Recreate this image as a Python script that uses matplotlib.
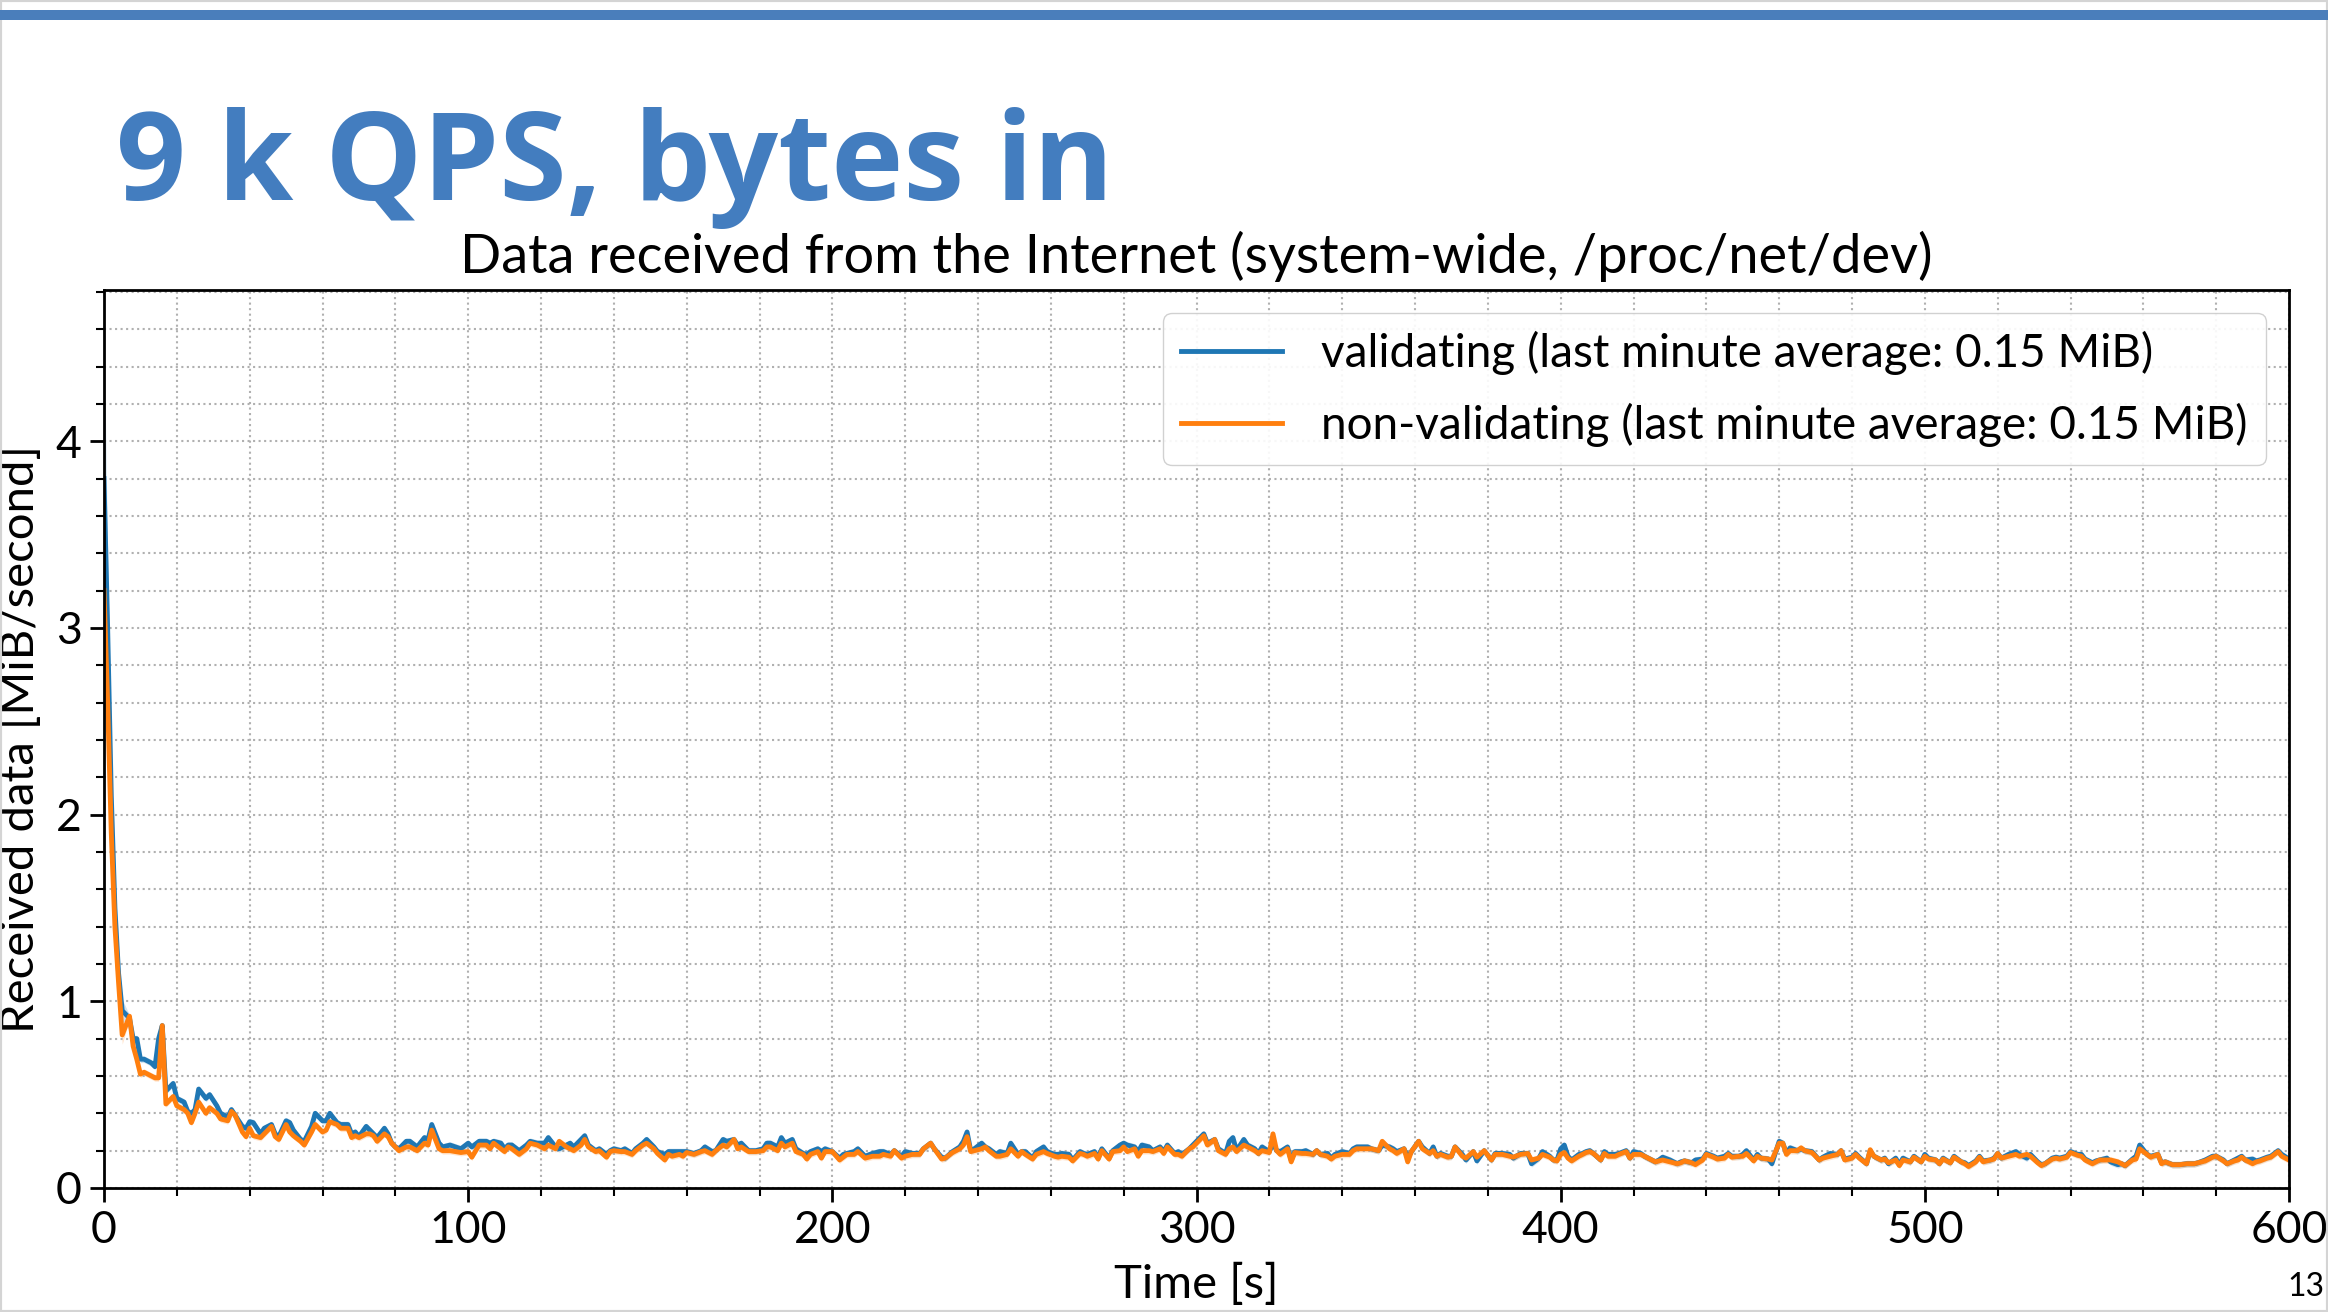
import numpy as np
import matplotlib
matplotlib.use('Agg')
from matplotlib import pyplot as plt
from matplotlib.ticker import MultipleLocator
from matplotlib.patches import Rectangle

# seconds since start
t_s = [0, 1, 2, 3, 4, 5, 7, 8, 9, 10,
       11, 13, 14, 15, 16, 17, 19, 20, 22, 23,
       24, 25, 26, 28, 29, 31, 32, 34, 35, 36,
       38, 39, 40, 41, 43, 44, 46, 47, 48, 50,
       51, 52, 54, 55, 57, 58, 60, 61, 62, 64,
       65, 67, 68, 69, 70, 72, 73, 74, 75, 77,
       78, 79, 80, 81, 83, 84, 86, 88, 89, 90,
       92, 93, 95, 98,
       100, 101, 103, 105, 106, 107, 109, 110, 111, 112,
       114, 116, 117, 119, 121, 122, 124, 125, 127, 128,
       129, 131, 132, 133, 135, 136, 138, 139, 140, 142,
       143, 145, 146, 148, 149, 151, 152, 154, 155, 156,
       158, 159, 160, 162, 164, 165, 167, 168, 170, 171,
       173, 174, 175, 177, 179, 181, 182, 183, 185, 186,
       187, 189, 190, 192, 193, 194, 196, 197, 198,
       200, 202, 203, 204, 206, 207, 209, 211, 213, 214,
       216, 217, 219, 220, 222, 224, 225, 227, 228, 230,
       231, 233, 235, 236, 237, 238, 239, 241, 242, 243,
       245, 246, 248, 249, 251, 252, 253, 255, 256, 258,
       259, 261, 262, 263, 265, 266, 268, 269, 270, 272,
       273, 274, 276, 277, 279, 280, 281, 283, 284, 285,
       287, 288, 290, 291, 292, 294, 295, 296, 298, 299,
       300, 302, 303, 305, 306, 308, 309, 310, 311, 313,
       314, 316, 317, 318, 320, 321, 322, 323, 325, 326,
       327, 329, 330, 332, 333, 334, 336, 337, 338, 340,
       342, 343, 344, 346, 347, 348, 350, 351, 353, 354,
       355, 357, 358, 359, 361, 362, 364, 365, 366, 367,
       369, 370, 371, 373, 374, 376, 377, 379, 381, 382,
       384, 386, 387, 389, 391, 392, 394, 395, 397, 398,
       399,
       400, 401, 402, 403, 405, 406, 407, 408, 409, 411,
       412, 413, 415, 416, 418, 419, 420, 422, 423, 424,
       426, 427, 428, 430, 432, 433, 434, 436, 437, 439,
       440, 442, 443, 445, 446, 447, 449, 450, 451, 453,
       454, 455, 457, 458, 460, 461, 462, 463, 465, 466,
       467, 469, 471, 472, 474, 476, 477, 478, 480, 481,
       482, 484, 485, 486, 488, 489, 490, 492, 493, 494,
       496, 497, 499,
       500, 501, 503, 504, 505, 507, 508, 510, 511, 512,
       514, 515, 516, 518, 519, 520, 521, 523, 525, 526,
       528, 529, 531, 532, 533, 535, 536, 537, 539, 540,
       542, 543, 544, 546, 547, 548, 550, 551, 553, 554,
       555, 557, 558, 559, 561, 562, 564, 565, 566, 568,
       570, 572, 574, 575, 577, 579, 580, 582, 583, 585,
       586, 587, 588, 590, 591, 592, 594, 595, 597, 598,
       600]

# MiB/s received, validating resolver
validating = [3.80, 3.00, 2.10, 1.50, 1.15, 0.95, 0.91, 0.80, 0.80, 0.69,
              0.69, 0.67, 0.65, 0.80, 0.87, 0.52, 0.56, 0.48, 0.46, 0.41,
              0.40, 0.42, 0.53, 0.48, 0.50, 0.44, 0.40, 0.38, 0.42, 0.39,
              0.33, 0.32, 0.355, 0.35, 0.29, 0.32, 0.34, 0.29, 0.275, 0.36,
              0.35, 0.31, 0.26, 0.25, 0.33, 0.40, 0.36, 0.36, 0.40, 0.35,
              0.34, 0.34, 0.29, 0.30, 0.275, 0.33, 0.31, 0.29, 0.27, 0.32,
              0.29, 0.24, 0.22, 0.21, 0.25, 0.25, 0.22, 0.27, 0.26, 0.34,
              0.24, 0.22, 0.23, 0.21,
              0.24, 0.22, 0.25, 0.25, 0.24, 0.25, 0.24, 0.21, 0.23, 0.23,
              0.20, 0.23, 0.25, 0.24, 0.24, 0.27, 0.22, 0.21, 0.23, 0.24,
              0.22, 0.26, 0.28, 0.23, 0.20, 0.21, 0.18, 0.20, 0.21, 0.20,
              0.21, 0.185, 0.21, 0.24, 0.26, 0.22, 0.195, 0.18, 0.195, 0.195,
              0.195, 0.195, 0.195, 0.185, 0.20, 0.22, 0.195, 0.20, 0.26, 0.25,
              0.26, 0.23, 0.24, 0.20, 0.20, 0.21, 0.24, 0.24, 0.22, 0.27,
              0.24, 0.26, 0.21, 0.185, 0.18, 0.195, 0.21, 0.195, 0.21,
              0.195, 0.16, 0.18, 0.185, 0.195, 0.21, 0.17, 0.185, 0.195, 0.195,
              0.18, 0.20, 0.17, 0.195, 0.185, 0.185, 0.21, 0.24, 0.21, 0.165,
              0.16, 0.195, 0.22, 0.25, 0.30, 0.20, 0.21, 0.24, 0.22, 0.21,
              0.18, 0.195, 0.185, 0.24, 0.18, 0.195, 0.195, 0.16, 0.195, 0.22,
              0.195, 0.18, 0.18, 0.185, 0.18, 0.15, 0.195, 0.185, 0.18, 0.195,
              0.16, 0.21, 0.16, 0.20, 0.23, 0.24, 0.23, 0.22, 0.195, 0.23,
              0.22, 0.20, 0.22, 0.195, 0.23, 0.185, 0.195, 0.18, 0.21, 0.23,
              0.25, 0.29, 0.24, 0.26, 0.21, 0.185, 0.25, 0.27, 0.20, 0.26,
              0.23, 0.21, 0.185, 0.22, 0.195, 0.24, 0.20, 0.195, 0.22, 0.15,
              0.195, 0.195, 0.20, 0.18, 0.20, 0.18, 0.185, 0.16, 0.18, 0.195,
              0.185, 0.21, 0.22, 0.22, 0.22, 0.21, 0.20, 0.23, 0.22, 0.21,
              0.195, 0.21, 0.16, 0.195, 0.25, 0.22, 0.185, 0.22, 0.17, 0.185,
              0.17, 0.17, 0.22, 0.18, 0.15, 0.195, 0.145, 0.20, 0.15, 0.185,
              0.185, 0.18, 0.16, 0.185, 0.185, 0.13, 0.16, 0.195, 0.17, 0.15,
              0.15,
              0.21, 0.23, 0.17, 0.15, 0.18, 0.185, 0.195, 0.20, 0.185, 0.15,
              0.195, 0.18, 0.18, 0.185, 0.20, 0.16, 0.195, 0.185, 0.17, 0.16,
              0.14, 0.15, 0.165, 0.15, 0.13, 0.14, 0.145, 0.135, 0.15, 0.155,
              0.185, 0.17, 0.16, 0.17, 0.185, 0.17, 0.17, 0.18, 0.20, 0.15,
              0.18, 0.16, 0.155, 0.13, 0.25, 0.24, 0.185, 0.215, 0.20, 0.21,
              0.20, 0.195, 0.15, 0.165, 0.185, 0.18, 0.20, 0.155, 0.165, 0.185,
              0.165, 0.13, 0.20, 0.17, 0.15, 0.16, 0.13, 0.16, 0.125, 0.16,
              0.14, 0.17, 0.14,
              0.18, 0.16, 0.15, 0.13, 0.16, 0.135, 0.17, 0.14, 0.135, 0.12,
              0.145, 0.17, 0.145, 0.15, 0.16, 0.185, 0.16, 0.18, 0.195, 0.18,
              0.16, 0.18, 0.14, 0.125, 0.13, 0.16, 0.165, 0.16, 0.17, 0.195,
              0.18, 0.18, 0.155, 0.135, 0.145, 0.15, 0.16, 0.14, 0.125, 0.13,
              0.12, 0.155, 0.17, 0.23, 0.18, 0.17, 0.18, 0.135, 0.14, 0.125,
              0.125, 0.13, 0.13, 0.135, 0.15, 0.17, 0.17, 0.15, 0.13, 0.15,
              0.16, 0.17, 0.15, 0.155, 0.145, 0.15, 0.165, 0.17, 0.20, 0.18,
              0.155]

# MiB/s received, non-validating resolver
non_validating = [3.20, 2.60, 1.90, 1.40, 1.10, 0.82, 0.92, 0.76, 0.69, 0.61,
                  0.62, 0.60, 0.59, 0.59, 0.87, 0.45, 0.49, 0.44, 0.42, 0.40,
                  0.35, 0.40, 0.46, 0.40, 0.43, 0.40, 0.37, 0.36, 0.41, 0.39,
                  0.30, 0.275, 0.32, 0.28, 0.27, 0.29, 0.33, 0.275, 0.26, 0.34,
                  0.30, 0.28, 0.25, 0.23, 0.30, 0.34, 0.30, 0.31, 0.355, 0.34,
                  0.32, 0.32, 0.27, 0.28, 0.27, 0.29, 0.29, 0.28, 0.25, 0.29,
                  0.275, 0.24, 0.22, 0.20, 0.22, 0.22, 0.20, 0.24, 0.23, 0.31,
                  0.21, 0.20, 0.20, 0.19,
                  0.195, 0.165, 0.23, 0.23, 0.21, 0.24, 0.21, 0.195, 0.22, 0.21,
                  0.18, 0.21, 0.24, 0.23, 0.21, 0.23, 0.21, 0.25, 0.22, 0.21,
                  0.20, 0.23, 0.26, 0.22, 0.195, 0.20, 0.165, 0.195, 0.20, 0.195,
                  0.195, 0.18, 0.20, 0.23, 0.24, 0.21, 0.185, 0.15, 0.18, 0.17,
                  0.18, 0.17, 0.19, 0.18, 0.195, 0.20, 0.18, 0.20, 0.23, 0.22,
                  0.26, 0.21, 0.22, 0.195, 0.195, 0.20, 0.22, 0.22, 0.20, 0.24,
                  0.22, 0.24, 0.195, 0.18, 0.155, 0.18, 0.195, 0.16, 0.195,
                  0.195, 0.15, 0.165, 0.18, 0.18, 0.195, 0.16, 0.17, 0.17, 0.18,
                  0.17, 0.20, 0.16, 0.17, 0.18, 0.18, 0.21, 0.24, 0.21, 0.155,
                  0.16, 0.19, 0.21, 0.23, 0.275, 0.195, 0.20, 0.21, 0.22, 0.20,
                  0.17, 0.17, 0.18, 0.21, 0.17, 0.195, 0.18, 0.155, 0.18, 0.195,
                  0.185, 0.17, 0.165, 0.17, 0.165, 0.145, 0.185, 0.18, 0.17, 0.185,
                  0.155, 0.20, 0.155, 0.195, 0.20, 0.22, 0.195, 0.21, 0.17, 0.20,
                  0.20, 0.195, 0.21, 0.185, 0.22, 0.18, 0.18, 0.17, 0.21, 0.22,
                  0.24, 0.28, 0.23, 0.26, 0.20, 0.18, 0.21, 0.22, 0.195, 0.23,
                  0.22, 0.20, 0.185, 0.20, 0.19, 0.29, 0.20, 0.18, 0.21, 0.14,
                  0.19, 0.185, 0.185, 0.18, 0.20, 0.18, 0.17, 0.155, 0.17, 0.18,
                  0.18, 0.20, 0.21, 0.21, 0.21, 0.21, 0.20, 0.25, 0.21, 0.20,
                  0.185, 0.21, 0.14, 0.195, 0.25, 0.21, 0.185, 0.20, 0.17, 0.18,
                  0.165, 0.17, 0.22, 0.17, 0.16, 0.195, 0.165, 0.20, 0.15, 0.18,
                  0.18, 0.17, 0.165, 0.18, 0.185, 0.15, 0.16, 0.18, 0.165, 0.15,
                  0.145,
                  0.18, 0.19, 0.16, 0.145, 0.17, 0.18, 0.19, 0.195, 0.185, 0.15,
                  0.185, 0.17, 0.17, 0.18, 0.195, 0.16, 0.18, 0.18, 0.17, 0.16,
                  0.14, 0.145, 0.15, 0.14, 0.13, 0.135, 0.145, 0.135, 0.125, 0.15,
                  0.18, 0.165, 0.155, 0.16, 0.18, 0.165, 0.17, 0.17, 0.185, 0.145,
                  0.17, 0.16, 0.155, 0.15, 0.24, 0.24, 0.18, 0.20, 0.20, 0.215,
                  0.20, 0.19, 0.15, 0.16, 0.17, 0.18, 0.20, 0.15, 0.16, 0.18,
                  0.16, 0.13, 0.205, 0.17, 0.15, 0.155, 0.135, 0.15, 0.12, 0.15,
                  0.14, 0.165, 0.14,
                  0.17, 0.155, 0.15, 0.13, 0.155, 0.135, 0.165, 0.14, 0.13, 0.115,
                  0.14, 0.165, 0.14, 0.15, 0.155, 0.185, 0.16, 0.17, 0.18, 0.17,
                  0.18, 0.17, 0.135, 0.12, 0.13, 0.155, 0.16, 0.155, 0.165, 0.19,
                  0.175, 0.17, 0.15, 0.13, 0.14, 0.15, 0.15, 0.15, 0.14, 0.13,
                  0.12, 0.15, 0.155, 0.21, 0.18, 0.165, 0.18, 0.13, 0.14, 0.125,
                  0.125, 0.13, 0.13, 0.135, 0.145, 0.165, 0.17, 0.145, 0.13, 0.145,
                  0.15, 0.165, 0.15, 0.13, 0.14, 0.145, 0.16, 0.165, 0.195, 0.17,
                  0.15]

# confidence band half-width during the first seconds (wide at start)
early_spread_val = [0.80, 0.40, 0.25, 0.12, 0.08, 0.06]
early_spread_nonval = [0.60, 0.30, 0.20, 0.10, 0.06, 0.05]

labels = ["validating (last minute average: 0.15 MiB)",
          "non-validating (last minute average: 0.15 MiB)"]

W, H = 2328, 1312
plt.rcParams['font.family'] = ['Lato', 'DejaVu Sans']
fig = plt.figure(figsize=(W / 100, H / 100), dpi=100)

# slide decoration
fig.patches.append(Rectangle((0, 0), 1, 1, transform=fig.transFigure, fill=False,
                             edgecolor='#d4d4d4', lw=3))
fig.patches.append(Rectangle((0, 1 - 20 / H), 1, 10 / H, transform=fig.transFigure,
                             color='#4a7ebb', lw=0))
fig.text(116 / W, 1 - 200 / H, "9 k QPS, bytes in", fontsize=88, fontweight='bold',
         color='#437dbf', family=['Open Sans', 'DejaVu Sans'], va='baseline')
fig.text(2306 / W, 1 - 1287 / H, "13", fontsize=23, ha='center', va='center')

ax = fig.add_axes([104 / W, 1 - 1188 / H, (2289 - 104) / W, (1188 - 290) / H])

t = np.array(t_s, dtype=float)
series = [(np.array(validating), early_spread_val, '#1f77b4'),
          (np.array(non_validating), early_spread_nonval, '#ff7f0e')]
for (vals, early, col), lab in zip(series, labels):
    spread = np.full(len(vals), 0.018)
    spread[:len(early)] = early
    ax.fill_between(t, vals - spread, vals + spread, color=col, alpha=0.2, lw=0)
    ax.plot(t, vals, color=col, lw=3.5, label=lab)

ax.set_xlim(0, 600)
ax.set_ylim(0, 4.81)
ax.xaxis.set_major_locator(MultipleLocator(100))
ax.xaxis.set_minor_locator(MultipleLocator(20))
ax.yaxis.set_major_locator(MultipleLocator(1))
ax.yaxis.set_minor_locator(MultipleLocator(0.2))
ax.grid(which='both', linestyle=':', color='#b0b0b0', lw=1.5)
ax.tick_params(which='major', length=10, width=2, labelsize=32, pad=6)
ax.tick_params(which='minor', length=6, width=1.5)
for sp in ax.spines.values():
    sp.set_linewidth(2)

ax.set_xlabel("Time [s]", fontsize=34, labelpad=8)
ax.set_ylabel("Received data [MiB/second]", fontsize=34, labelpad=10)
ax.set_title("Data received from the Internet (system-wide, /proc/net/dev)",
             fontsize=39, pad=12)

leg = ax.legend(loc='upper right', fontsize=33, handlelength=2.2, handletextpad=0.85,
                borderaxespad=0.5, labelspacing=0.6, framealpha=0.9,
                edgecolor='#cccccc', fancybox=True)
for line in leg.get_lines():
    line.set_linewidth(3.5)

fig.savefig('out.png', dpi=100)
